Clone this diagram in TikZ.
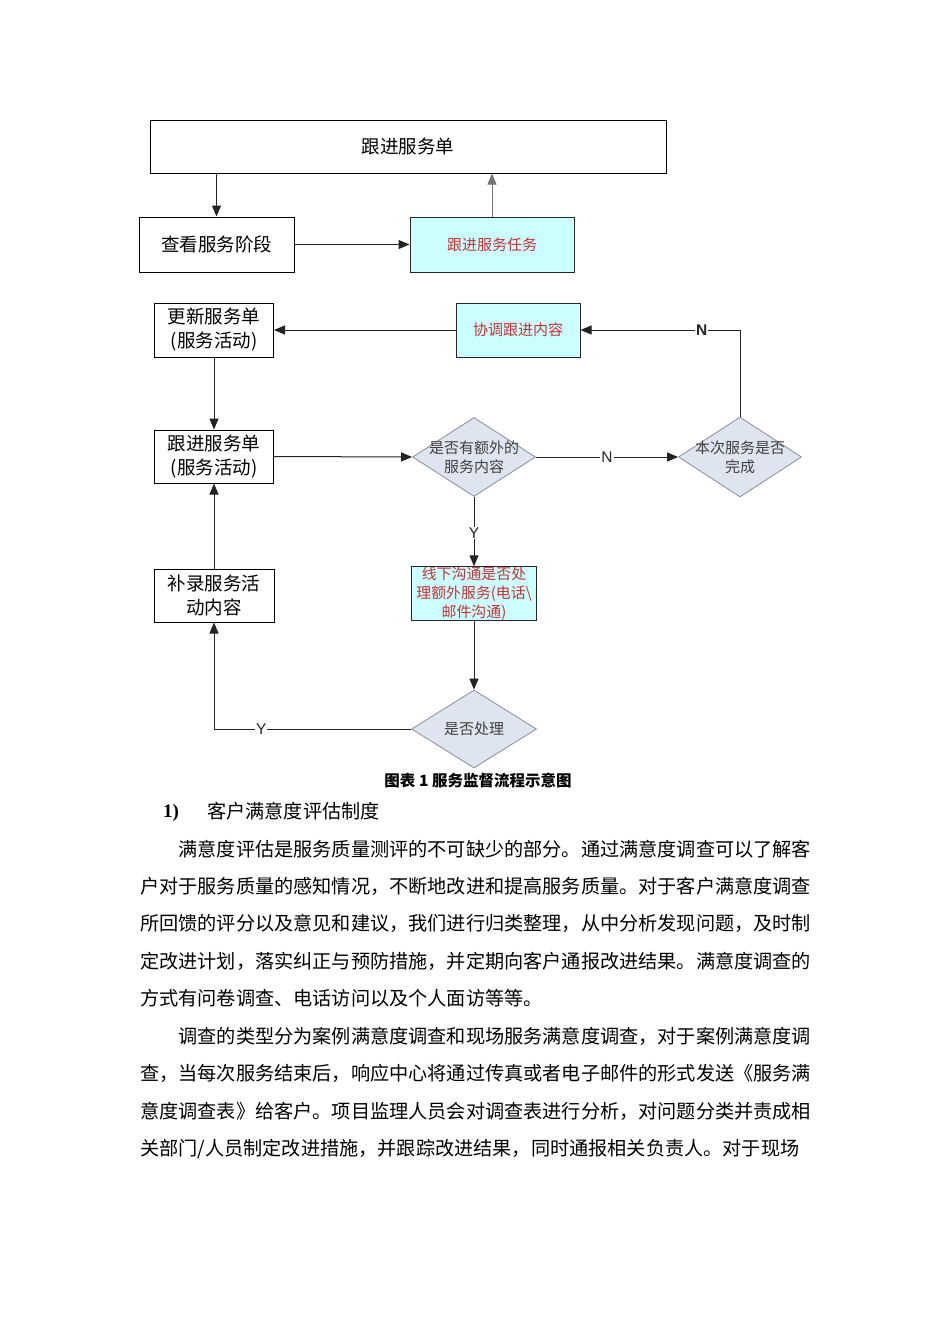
\documentclass[tikz,border=0pt]{standalone}
\usepackage{fontspec}
\setmainfont{Noto Sans CJK SC}
\newfontfamily\latf{Liberation Sans}
\newfontfamily\serf{Liberation Serif}
\usetikzlibrary{shapes.geometric,arrows.meta}
\definecolor{cyanf}{RGB}{204,255,255}
\definecolor{redt}{RGB}{200,50,50}
\definecolor{diaf}{RGB}{222,229,240}
\definecolor{diab}{RGB}{140,140,150}
\definecolor{lnc}{RGB}{35,35,35}
\tikzset{
  box/.style={draw=black, line width=1pt, fill=white, inner sep=0pt, align=center,
    font=\fontsize{18.5pt}{24pt}\selectfont},
  cbox/.style={draw=black!85, line width=1pt, fill=cyanf, text=redt, inner sep=0pt, align=center,
    font=\fontsize{15pt}{19pt}\selectfont},
  dia/.style={diamond, draw=diab, fill=diaf, line width=0.8pt, inner sep=0pt},
  dtxt/.style={text=black!75, inner sep=0pt, align=center, font=\fontsize{15pt}{19pt}\selectfont},
  arr/.style={draw=lnc, line width=1pt, -{Triangle[length=11pt,width=9pt]}},
  lab/.style={fill=white, inner sep=1pt, text=black!85, font=\latf\fontsize{15.5pt}{16pt}\selectfont},
  body/.style={anchor=west, inner sep=0pt, text height=0.88em, text depth=0.12em,
    font=\fontsize{19.17pt}{37pt}\selectfont},
}
\begin{document}
\begin{tikzpicture}[x=1pt,y=-1pt]
\useasboundingbox[fill=white] (0,0) rectangle (950,1344);

% top part
\node[box, minimum width=516pt, minimum height=53pt] (top) at (408,146.5) {跟进服务单};
\node[box, minimum width=155pt, minimum height=55pt] (view) at (216.5,244.5) {查看服务阶段};
\node[cbox, minimum width=164pt, minimum height=55pt] (task) at (492,244.5) {跟进服务任务};

\draw[arr] (top.south -| view) -- (view.north);
\draw[arr] (view.east) -- (task.west);
\draw[arr, draw=black!55, line width=0.6pt] (task.north) -- (task.north |- top.south);

% lower flow
\node[box, minimum width=119pt, minimum height=54pt] (upd) at (214,330) {更新服务单\\(服务活动)};
\node[cbox, minimum width=124pt, minimum height=54pt] (coord) at (518,330) {协调跟进内容};
\node[box, minimum width=119pt, minimum height=53pt] (fol) at (214,456.5) {跟进服务单\\(服务活动)};
\node[dia, minimum width=123pt, minimum height=79pt] (d1) at (474,457) {};
\node[dtxt] (d1t) at (d1) {是否有额外的\\服务内容};
\node[dia, minimum width=123pt, minimum height=80pt] (d2) at (740,457) {};
\node[dtxt] (d2t) at (d2) {本次服务是否\\完成};
\node[cbox, minimum width=125pt, minimum height=53pt, font=\fontsize{14.9pt}{19pt}\selectfont] (off) at (474,593.5) {线下沟通是否处\\理额外服务(电话\textbackslash\\邮件沟通)};
\node[dia, minimum width=125pt, minimum height=78pt] (d3) at (474,729) {};
\node[dtxt] (d3t) at (d3) {是否处理};
\node[box, minimum width=120pt, minimum height=53pt] (sup) at (214,595.5) {补录服务活\\动内容};

\draw[arr] (coord.west) -- (upd.east);
\draw[arr] (d2.north) |- (coord.east) node[lab, pos=0.62, font=\latf\bfseries\fontsize{15.5pt}{16pt}\selectfont] (nlab1) {N};
\draw[arr] (upd.south) -- (fol.north);
\draw[arr] (fol.east) -- (d1.west);
\draw[arr] (d1.east) -- node[lab, pos=0.5] (nlab2) {N} (d2.west);
\draw[arr] (d1.south) -- node[lab, pos=0.52] (ylab1) {Y} (off.north);
\draw[arr] (off.south) -- (d3.north);
\draw[arr] (d3.west) -| node[lab, pos=0.38] (ylab2) {Y} (sup.south);
\draw[arr] (sup.north) -- (fol.south);

% caption
\node[inner sep=0pt, font=\bfseries\fontsize{15.5pt}{16pt}\selectfont] (cap) at (478,781) {图表 1 服务监督流程示意图};

% heading
\node[inner sep=0pt, font=\serf\bfseries\fontsize{19pt}{20pt}\selectfont] (hnum) at (171,813) {1)};
\node[body] (head) at (207,815) {客户满意度评估制度};

% paragraph 1
\node[body] (p1a) at (178.3,852.5) {满意度评估是服务质量测评的不可缺少的部分。通过满意度调查可以了解客};
\node[body] (p1b) at (140,889.8) {户对于服务质量的感知情况，不断地改进和提高服务质量。对于客户满意度调查};
\node[body] (p1c) at (140,927) {所回馈的评分以及意见和建议，我们进行归类整理，从中分析发现问题，及时制};
\node[body] (p1d) at (140,964.3) {定改进计划，落实纠正与预防措施，并定期向客户通报改进结果。满意度调查的};
\node[body] (p1e) at (140,1001.5) {方式有问卷调查、电话访问以及个人面访等等。};

% paragraph 2
\node[body] (p2a) at (178.3,1039.5) {调查的类型分为案例满意度调查和现场服务满意度调查，对于案例满意度调};
\node[body] (p2b) at (140,1077) {查，当每次服务结束后，响应中心将通过传真或者电子邮件的形式发送《服务满};
\node[body] (p2c) at (140,1114.3) {意度调查表》给客户。项目监理人员会对调查表进行分析，对问题分类并责成相};
\node[body] (p2d) at (140,1151.5) {关部门/人员制定改进措施，并跟踪改进结果，同时通报相关负责人。对于现场};
\end{tikzpicture}
\end{document}
